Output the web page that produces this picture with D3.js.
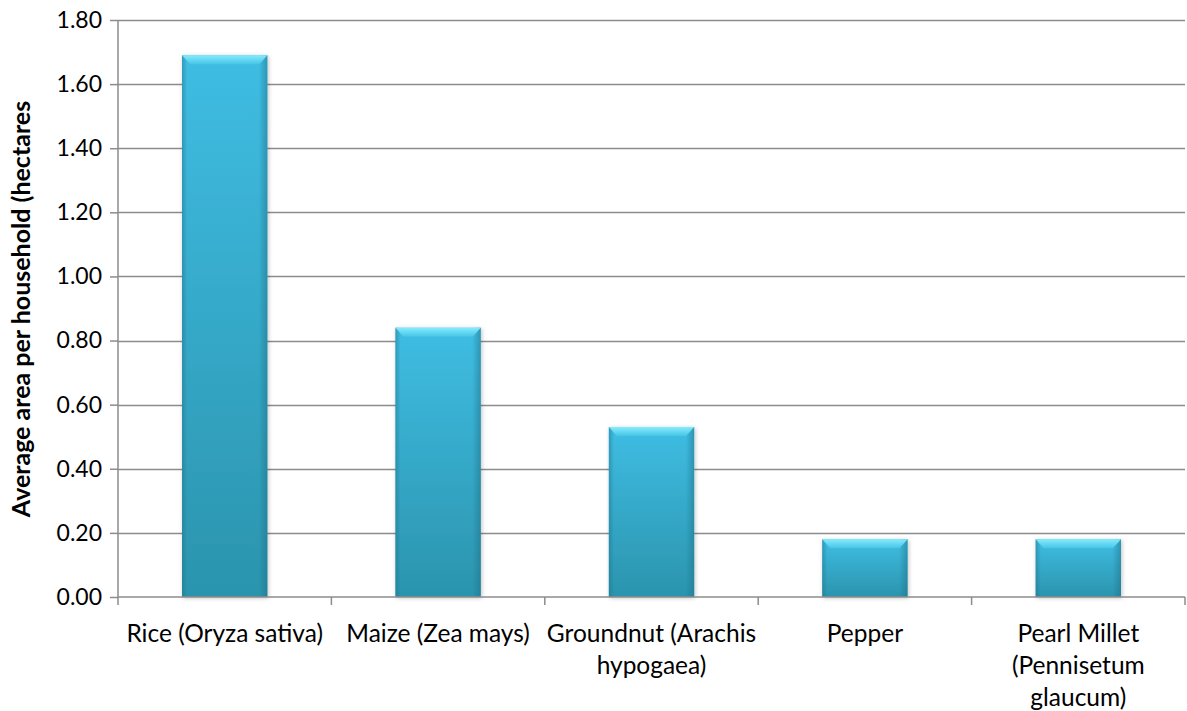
<!DOCTYPE html>
<html><head><meta charset="utf-8">
<script src="https://cdn.jsdelivr.net/npm/d3@7"></script>
<style>html,body{margin:0;padding:0;background:#fff;}svg{display:block;font-family:Lato,"Open Sans",sans-serif;}</style>
</head><body>
<svg id="c" width="1187" height="711"></svg>
<script>
const categories = ["Rice (Oryza sativa)", "Maize (Zea mays)", "Groundnut (Arachis hypogaea)", "Pepper", "Pearl Millet (Pennisetum glaucum)"];
const labelLines = [["Rice (Oryza sativa)"], ["Maize (Zea mays)"], ["Groundnut (Arachis", "hypogaea)"], ["Pepper"], ["Pearl Millet", "(Pennisetum", "glaucum)"]];
const values = [1.69, 0.84, 0.53, 0.18, 0.18];
const yTicks = [0, 0.2, 0.4, 0.6, 0.8, 1.0, 1.2, 1.4, 1.6, 1.8];
const yTitle = "Average area per household (hectares";

const svg = d3.select("#c");
const m = {left:118, right:1185, top:20, bottom:597};
const x = d3.scaleBand().domain(categories).range([m.left, m.right]).paddingInner(0.6).paddingOuter(0.3);
const xb = d3.scaleBand().domain(categories).range([m.left, m.right]);
const y = d3.scaleLinear().domain([0, 1.8]).range([m.bottom, m.top]);

const defs = svg.append("defs");
const gv = defs.append("linearGradient").attr("id","gv").attr("x1",0).attr("y1",0).attr("x2",0).attr("y2",1);
gv.append("stop").attr("offset","0%").attr("stop-color","#3fbde3");
gv.append("stop").attr("offset","100%").attr("stop-color","#2b94ad");
const gh = defs.append("linearGradient").attr("id","gh").attr("x1",0).attr("y1",0).attr("x2",1).attr("y2",0);
gh.append("stop").attr("offset","0%").attr("stop-color","#1d6f86").attr("stop-opacity",0.45);
gh.append("stop").attr("offset","6%").attr("stop-color","#1d6f86").attr("stop-opacity",0.0);
gh.append("stop").attr("offset","90%").attr("stop-color","#1d6f86").attr("stop-opacity",0.0);
gh.append("stop").attr("offset","100%").attr("stop-color","#1d6f86").attr("stop-opacity",0.5);
const gt = defs.append("linearGradient").attr("id","gt").attr("x1",0).attr("y1",0).attr("x2",0).attr("y2",1);
gt.append("stop").attr("offset","0%").attr("stop-color","#8ef0ff");
gt.append("stop").attr("offset","100%").attr("stop-color","#46c6e8");
const f = defs.append("filter").attr("id","sh").attr("x","-20%").attr("y","-20%").attr("width","140%").attr("height","140%");
f.append("feDropShadow").attr("dx",1).attr("dy",1).attr("stdDeviation",2).attr("flood-color","#000").attr("flood-opacity",0.25);

// gridlines
svg.append("g").selectAll("line").data(yTicks.filter(d=>d>0)).join("line")
  .attr("x1", m.left).attr("x2", m.right).attr("y1", d=>Math.round(y(d))+0.5).attr("y2", d=>Math.round(y(d))+0.5)
  .attr("stroke","#8c8c8c").attr("stroke-width",1.5);

// bars
const bars = svg.append("g").selectAll("g").data(categories).join("g");
bars.append("rect").attr("x", d=>x(d)).attr("width", x.bandwidth())
  .attr("y", (d,i)=>y(values[i])).attr("height", (d,i)=>y(0)-y(values[i]))
  .attr("fill","url(#gv)").attr("filter","url(#sh)");
bars.append("rect").attr("x", d=>x(d)).attr("width", x.bandwidth())
  .attr("y", (d,i)=>y(values[i])).attr("height", (d,i)=>y(0)-y(values[i]))
  .attr("fill","url(#gh)");
bars.append("path").attr("d", (d,i)=>{
  const x0 = x(d), x1 = x(d)+x.bandwidth(), t = y(values[i]), h = 9;
  return `M${x0},${t}L${x1},${t}L${x1-8},${t+h}L${x0+8},${t+h}Z`;
}).attr("fill","url(#gt)").attr("opacity",0.9);

// axes
const yAxis = d3.axisLeft(y).tickValues(yTicks).tickFormat(d3.format(".2f")).tickSize(8).tickPadding(8);
const ga = svg.append("g").attr("transform",`translate(${m.left},0)`).call(yAxis);
ga.select(".domain").attr("stroke","#8c8c8c").attr("stroke-width",1.5).attr("d",`M0,${m.top}V${m.bottom}`);
ga.selectAll(".tick line").attr("stroke","#8c8c8c").attr("stroke-width",1.5);
ga.selectAll(".tick text").attr("font-size",23).attr("fill","#000").attr("font-family","Lato");

const xAxis = d3.axisBottom(xb).tickSize(0).tickFormat("");
const gx = svg.append("g").attr("transform",`translate(0,${m.bottom})`).call(xAxis);
gx.select(".domain").attr("stroke","#8c8c8c").attr("stroke-width",1.5).attr("d",`M${m.left},0H${m.right}`);
gx.selectAll(".tick").remove();
const bounds = categories.map(c=>xb(c)).concat([m.right]);
gx.selectAll("line.b").data(bounds).join("line").attr("class","b")
  .attr("x1", d=>d).attr("x2", d=>d).attr("y1",0).attr("y2",8).attr("stroke","#8c8c8c").attr("stroke-width",1.5);

const lbl = svg.append("g");
categories.forEach((c,i)=>{
  const t = lbl.append("text").attr("x", xb(c)+xb.bandwidth()/2).attr("y", 642)
    .attr("text-anchor","middle").attr("font-size",24.5).attr("fill","#000");
  labelLines[i].forEach((s,j)=>t.append("tspan").attr("x", xb(c)+xb.bandwidth()/2).attr("dy", j===0?0:32).text(s));
});

svg.append("text").attr("transform",`translate(30,309) rotate(-90)`)
  .attr("text-anchor","middle").attr("font-size",25).attr("font-weight","bold").attr("fill","#000").text(yTitle);
</script>
</body></html>
